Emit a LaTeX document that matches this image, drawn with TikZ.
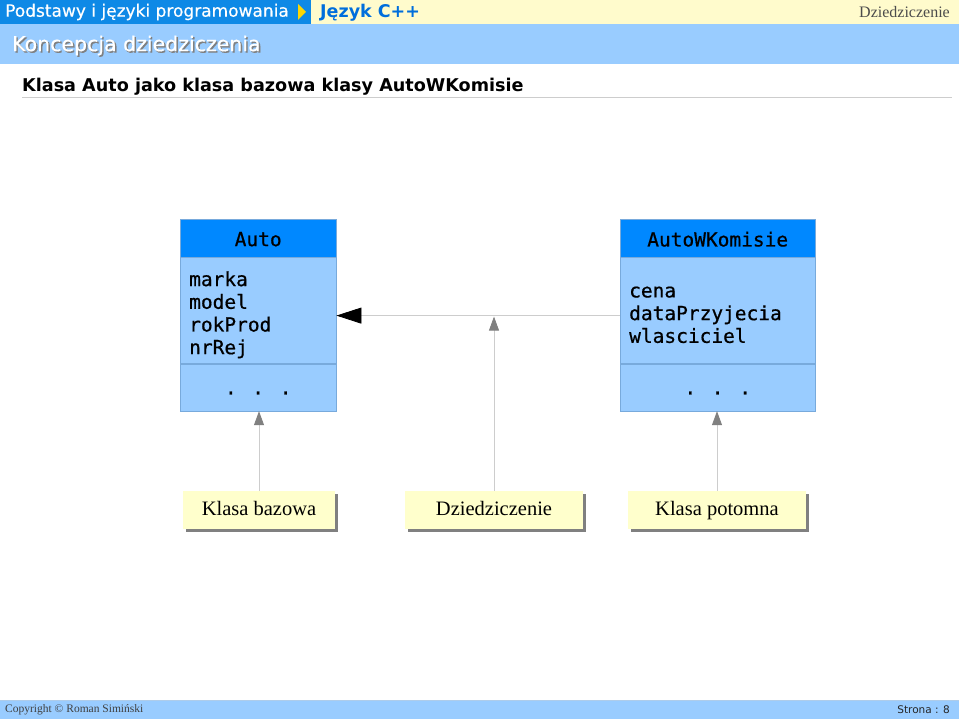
\documentclass[tikz,border=0pt]{standalone}
\usepackage{fontspec}
\setmainfont{Liberation Serif}
\setsansfont{DejaVu Sans}
\setmonofont{DejaVu Sans Mono}
\newfontfamily\umlfont{DejaVu Sans Mono}[FakeBold=0.6]
\newfontfamily\headfont{DejaVu Sans}[FakeBold=0.4]
\usetikzlibrary{positioning,arrows.meta,shadows}
\definecolor{topblue}{RGB}{14,137,230}
\definecolor{paleyellow}{RGB}{255,251,204}
\definecolor{lightblue}{RGB}{153,204,255}
\definecolor{headblue}{RGB}{0,136,255}
\definecolor{boxline}{RGB}{120,170,220}
\definecolor{cppblue}{RGB}{0,110,220}
\definecolor{labelyellow}{RGB}{255,255,204}
\definecolor{linegray}{RGB}{205,205,205}
\definecolor{tipgray}{RGB}{128,128,128}
\definecolor{ruleblue}{RGB}{120,170,220}

\tikzset{
    classhead/.style={draw=boxline, fill=headblue, minimum height=38pt,
        inner sep=0pt, font=\fontsize{19.5}{23}\selectfont\umlfont},
    classattr/.style={draw=boxline, fill=lightblue, minimum height=106pt,
        inner xsep=9pt, inner ysep=0pt, align=left,
        font=\fontsize{19.5}{22.7}\selectfont\umlfont},
    classops/.style={draw=boxline, fill=lightblue, minimum height=47pt,
        inner sep=0pt, font=\fontsize{19.5}{23}\selectfont\umlfont},
    note/.style={fill=labelyellow, minimum height=38pt, inner sep=0pt,
        text height=14pt, text depth=4pt,
        font=\fontsize{20.5}{23}\selectfont,
        drop shadow={shadow xshift=3pt, shadow yshift=-3pt,
            fill=tipgray, opacity=1}},
    pointer/.style={draw=linegray, line width=0.8pt,
        -{Triangle[length=14pt, width=10pt, color=tipgray]}},
    inherit/.style={draw=linegray, line width=0.8pt,
        -{Triangle[length=25pt, width=16pt, color=black]}}
}
\newcommand{\lowered}[2]{\raisebox{-#1}[\height][\depth]{#2}}
\newcommand{\opsdots}{\lowered{5.5pt}{. . .}}
\newcommand{\attrlist}[1]{\lowered{5pt}{\begin{tabular}{@{}l@{}}#1\end{tabular}}}

\begin{document}
\begin{tikzpicture}[x=1pt, y=-1pt]
    \useasboundingbox (0, 0) rectangle (959, 719);
    \fill[white] (0, 0) rectangle (959, 719);

    % Header
    \fill[topblue] (0, 0) rectangle (311, 24);
    \fill[paleyellow] (311, 0) rectangle (959, 24);
    \fill[yellow!75!orange] (298, 4) -- (306, 12) -- (298, 20) -- cycle;
    \node[anchor=west, inner sep=0pt, text=white,
        font=\fontsize{17}{18}\selectfont\headfont]
        (course) at (5, 12) {Podstawy i języki programowania};
    \node[anchor=west, inner sep=0pt, text=cppblue,
        font=\fontsize{17.5}{18}\selectfont\sffamily\bfseries]
        (lang) at (320, 12.5) {Język C++};
    \node[anchor=east, inner sep=0pt, text=black!70,
        font=\fontsize{16}{18}\selectfont]
        (topic) at (950, 12) {Dziedziczenie};

    \fill[lightblue] (0, 24) rectangle (959, 64);
    \node[anchor=west, inner sep=0pt, text=black!50,
        font=\fontsize{20.5}{22}\selectfont\headfont]
        at (13.5, 47) {Koncepcja dziedziczenia};
    \node[anchor=west, inner sep=0pt, text=white,
        font=\fontsize{20.5}{22}\selectfont\headfont]
        (section) at (12, 45.5) {Koncepcja dziedziczenia};

    % Title
    \node[anchor=west, inner sep=0pt,
        font=\fontsize{17.6}{20}\selectfont\sffamily\bfseries]
        (title) at (22, 87) {Klasa Auto jako klasa bazowa klasy AutoWKomisie};
    \draw[linegray, line width=0.8pt] (22, 97) -- (952, 97);

    % Klasa bazowa
    \node[classhead, minimum width=156pt, anchor=north west]
        (autoName) at (180, 219) {\lowered{1pt}{Auto}};
    \node[classattr, text width=138pt, below=0pt of autoName]
        (autoAttr) {\attrlist{marka\\model\\rokProd\\nrRej}};
    \node[classops, minimum width=156pt, below=0pt of autoAttr]
        (autoOps) {\opsdots};

    % Klasa potomna
    \node[classhead, minimum width=195pt, anchor=north west]
        (komName) at (620, 219) {\lowered{1pt}{AutoWKomisie}};
    \node[classattr, text width=177pt, below=0pt of komName]
        (komAttr) {\attrlist{cena\\dataPrzyjecia\\wlasciciel}};
    \node[classops, minimum width=195pt, below=0pt of komAttr]
        (komOps) {\opsdots};

    % Dziedziczenie
    \coordinate (inhStart) at ([yshift=-5pt]komAttr.west);
    \coordinate (inhEnd) at ([yshift=-5pt]autoAttr.east);
    \draw[inherit] (inhStart) -- (inhEnd);

    % Opisy
    \node[note, minimum width=152pt] (baseNote) at (259, 510) {Klasa bazowa};
    \node[note, minimum width=178pt] (inhNote) at (494, 510) {Dziedziczenie};
    \node[note, minimum width=178pt] (childNote) at (717, 510) {Klasa potomna};
    \coordinate (inhMid) at (inhNote.north |- inhStart);

    \draw[pointer] (baseNote.north) -- (baseNote.north |- autoOps.south);
    \draw[pointer] (inhNote.north) -- ([yshift=-1pt]inhMid);
    \draw[pointer] (childNote.north) -- (childNote.north |- komOps.south);

    % Stopka
    \fill[lightblue] (0, 700) rectangle (959, 719);
    \draw[ruleblue!60] (0, 700) -- (959, 700);
    \node[anchor=west, inner sep=0pt, text=black!75,
        font=\fontsize{11.5}{13}\selectfont]
        (copy) at (5, 710) {Copyright © Roman Simiński};
    \node[anchor=east, inner sep=0pt, text=black!85,
        font=\fontsize{10.5}{12}\selectfont\sffamily]
        (page) at (950, 710) {Strona : 8};
\end{tikzpicture}
\end{document}
